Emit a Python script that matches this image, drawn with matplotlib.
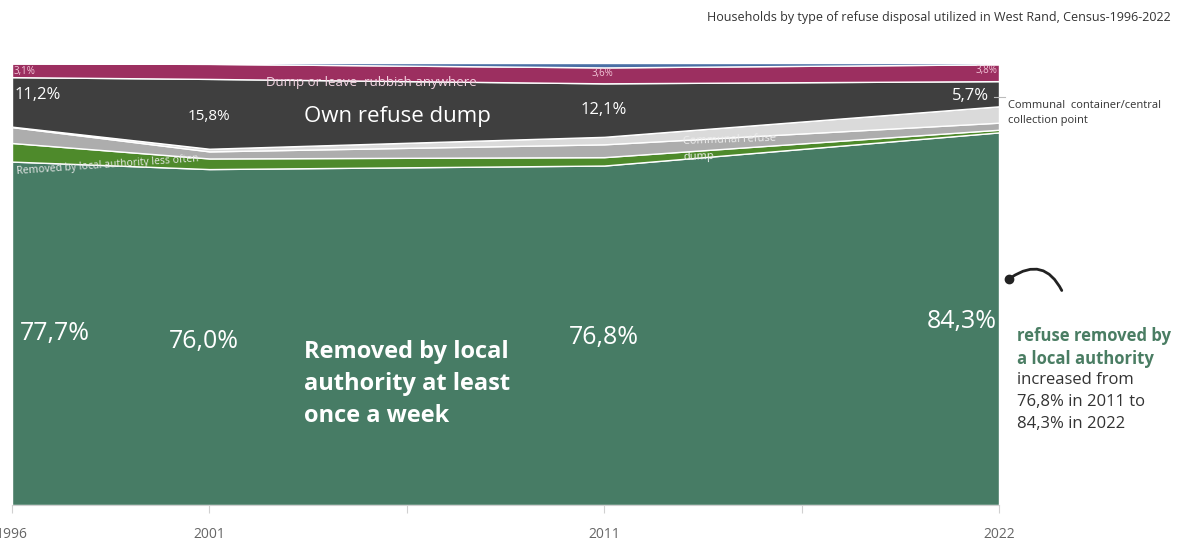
import matplotlib
matplotlib.use('Agg')
import matplotlib.pyplot as plt
from matplotlib.lines import Line2D
from matplotlib.patches import FancyArrowPatch

plt.rcParams['font.family'] = ['Open Sans', 'DejaVu Sans']

# Data (share of households, %)
years = ['1996', '2001', '2011', '2022']
xpos = [0, 1, 3, 5]
tick_labels = ['1996', '2001', '', '2011', '', '2022']
weekly = [77.7, 76.0, 76.8, 84.3]
less_often = [4.2, 2.4, 1.9, 0.6]
communal_dump = [3.6, 1.6, 2.9, 1.6]
container = [0.1, 0.6, 1.7, 3.7]
own_dump = [11.2, 15.8, 12.1, 5.7]
anywhere = [3.1, 3.4, 3.6, 3.8]
other = [0.1, 0.2, 1.0, 0.3]

colors = ['#477C65', '#4E8A2B', '#ADADAD', '#DADADA', '#3F3F3F', '#9C2F60', '#4A6FA5']

fig = plt.figure(figsize=(11.94, 5.43), dpi=100)
ax = fig.add_axes([12 / 1194, 1 - 505 / 543, 987 / 1194, 442 / 543])

ax.stackplot(xpos, weekly, less_often, communal_dump, container, own_dump,
             anywhere, other, colors=colors, edgecolor='white', linewidth=1.0)

ax.set_xlim(0, 5)
ax.set_ylim(0, 100)
ax.set_xticks(range(6))
ax.set_xticklabels(tick_labels, fontsize=10, color='#666666')
ax.tick_params(axis='x', length=6, width=0.8, color='#D0D0D0', pad=10)
ax.set_yticks([])
for s in ['top', 'left', 'right']:
    ax.spines[s].set_visible(False)
ax.spines['bottom'].set_color('#D0D0D0')

# small labels in the top bands
ax.text(0.01, 98.0, '3,1%', fontsize=7, color='#F2C6D8', va='center')
ax.text(2.99, 97.6, '3,6%', fontsize=7, color='#F2C6D8', va='center', ha='center')
ax.text(4.99, 98.2, '3,8%', fontsize=7, color='#F2C6D8', va='center', ha='right')
ax.text(1.82, 95.7, 'Dump or leave  rubbish anywhere', fontsize=9.5,
        color='#F5D5E3', ha='center', va='center')

# own refuse dump
ax.text(0.015, 92.8, '11,2%', fontsize=12, color='white', va='center')
ax.text(1.0, 88.0, '15,8%', fontsize=11, color='white', va='center', ha='center')
ax.text(3.0, 89.4, '12,1%', fontsize=12, color='white', va='center', ha='center')
ax.text(4.95, 92.6, '5,7%', fontsize=12, color='white', va='center', ha='right')
ax.plot([4.975, 5.03], [92.2, 92.2], color='#BBBBBB', lw=0.8, clip_on=False)
ax.text(1.955, 87.8, 'Own refuse dump', fontsize=16, color='white', va='center', ha='center')

ax.text(0.025, 75.4, 'Removed by local authority less often', fontsize=7.5,
        color='#E8E8E8', va='center', rotation=4, rotation_mode='anchor')
ax.text(3.40, 80.5, 'Communal refuse\ndump', fontsize=8, color='#EEEEEE',
        va='center', rotation=2, rotation_mode='anchor', linespacing=1.6)

# removed weekly
ax.text(0.04, 38.9, '77,7%', fontsize=18, color='white', va='center')
ax.text(0.97, 36.9, '76,0%', fontsize=18, color='white', va='center', ha='center')
ax.text(3.0, 37.8, '76,8%', fontsize=18, color='white', va='center', ha='center')
ax.text(4.99, 41.6, '84,3%', fontsize=18, color='white', va='center', ha='right')
ax.text(1.48, 27.4, 'Removed by local\nauthority at least\nonce a week', fontsize=17,
        fontweight='bold', color='white', va='center', linespacing=1.45)

# outside texts
fig.text(1171 / 1194, 1 - 17 / 543, 'Households by type of refuse disposal utilized in West Rand, Census-1996-2022',
         fontsize=9, color='#333333', ha='right', va='center')
fig.text(1008 / 1194, 1 - 113 / 543, 'Communal  container/central\ncollection point',
         fontsize=8, color='#333333', ha='left', va='center', linespacing=1.5)
fig.text(1017 / 1194, 1 - 327 / 543, 'refuse removed by\na local authority', fontsize=12,
         fontweight='bold', color='#4A7D63', ha='left', va='top', linespacing=1.35)
fig.text(1017 / 1194, 1 - 372 / 543, 'increased from\n76,8% in 2011 to\n84,3% in 2022', fontsize=12,
         color='#333333', ha='left', va='top', linespacing=1.5)

# curved pointer
arc = FancyArrowPatch((1009 / 1194, 1 - 279 / 543), (1063 / 1194, 1 - 293 / 543),
                      transform=fig.transFigure, arrowstyle='-',
                      connectionstyle='arc3,rad=-0.6', color='#222222', lw=2)
fig.patches.append(arc)
fig.add_artist(Line2D([1009 / 1194], [1 - 279 / 543], marker='o', ms=6,
                      color='#222222', transform=fig.transFigure))

fig.savefig('out.png', dpi=100)
